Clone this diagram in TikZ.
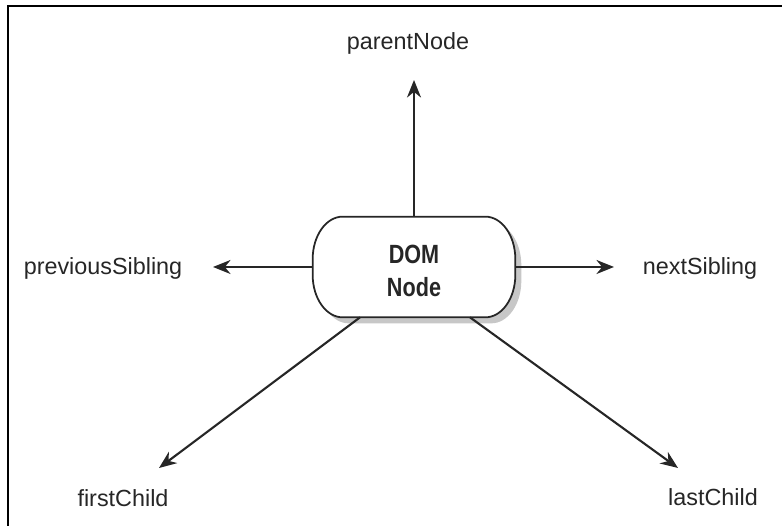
\documentclass[tikz,border=0pt]{standalone}
\usepackage{fontspec}
\setmainfont{Liberation Sans}
\newfontfamily\domfont[FakeStretch=0.82]{Liberation Sans}
\usetikzlibrary{arrows.meta,shadows,backgrounds}

\begin{document}
\begin{tikzpicture}[x=0.02cm, y=-0.02cm,
		lbl/.style={font=\fontsize{13.3}{16}\selectfont, inner sep=0pt, text=black!85},
		ptr/.style={line width=1.2pt, black!85, -{Stealth[length=10pt, width=8pt]}}]
			%%%%% START %%%%%
			
			\useasboundingbox (0,0) rectangle (782,526);
			\draw[line width=1.2pt] (8,526) -- (8,6) -- (782,6);
			
			\node[minimum width=4.04cm, minimum height=2cm, inner sep=0pt, align=center, text=black!85,
				font=\domfont\bfseries\fontsize{15}{18.7}\selectfont] (dom) at (414,267) {};
			\node[align=center, inner sep=0pt, text=black!85,
				font=\domfont\bfseries\fontsize{15}{18.7}\selectfont] (domText) at (414,271) {DOM\\Node};
			
			\begin{pgfonlayer}{background}
			\draw[line width=1pt, black!85, fill=white,
				drop shadow={shadow xshift=0.12cm, shadow yshift=-0.12cm, fill=black!22, opacity=1}]
				([xshift=0.6cm]dom.north west) -- ([xshift=-0.6cm]dom.north east)
				arc[start angle=90, end angle=0, x radius=0.6cm, y radius=0.85cm]
				-- ([yshift=0.85cm]dom.south east)
				arc[start angle=0, end angle=-90, x radius=0.6cm, y radius=0.85cm]
				-- ([xshift=0.6cm]dom.south west)
				arc[start angle=270, end angle=180, x radius=0.6cm, y radius=0.85cm]
				-- ([yshift=-0.85cm]dom.north west)
				arc[start angle=180, end angle=90, x radius=0.6cm, y radius=0.85cm] -- cycle;
			\end{pgfonlayer}
			
			\node[lbl] (parent) at (408,43) {parentNode};
			\node[lbl] (prev) at (103,268) {previousSibling};
			\node[lbl] (next) at (700,268) {nextSibling};
			\node[lbl] (first) at (123,498) {firstChild};
			\node[lbl] (last) at (713,497) {lastChild};
			
			\coordinate (upTip) at (414,80);
			\coordinate (leftTip) at (213,267);
			\coordinate (rightTip) at (614,267);
			\coordinate (firstTip) at (159,468);
			\coordinate (lastTip) at (678,468);
			
			\draw[ptr] (dom.north) -- (upTip);
			\draw[ptr] (dom.west) -- (leftTip);
			\draw[ptr] (dom.east) -- (rightTip);
			\draw[ptr] ([xshift=-1.08cm]dom.south) -- (firstTip);
			\draw[ptr] ([xshift=1.12cm]dom.south) -- (lastTip);
			
			%%%%% END %%%%%
\end{tikzpicture}
\end{document}
